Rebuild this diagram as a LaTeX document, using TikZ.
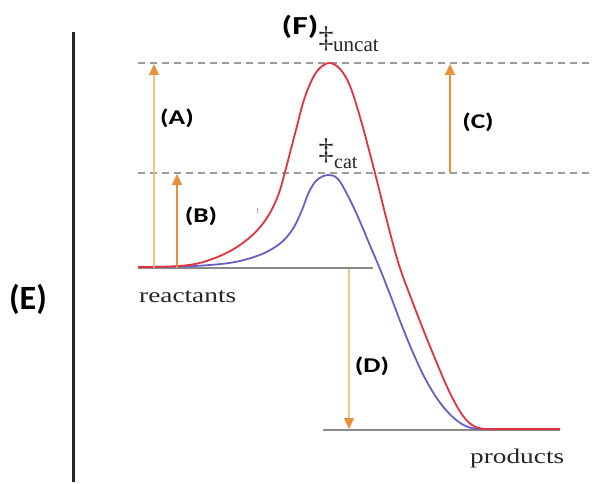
\documentclass[tikz,border=0pt]{standalone}
\usepackage{fontspec}
\setmainfont[FakeStretch=1.3]{Liberation Serif}
\newfontfamily\plainserif{Liberation Serif}
\newfontfamily\lblfont[FakeStretch=1.3]{Carlito}
\newfontfamily\bigfont{Carlito}
\usetikzlibrary{arrows.meta}
\definecolor{redc}{HTML}{E5323F}
\definecolor{purc}{HTML}{6A60C4}
\definecolor{oranged}{HTML}{E8913A}
\definecolor{orangel}{HTML}{F3C28E}
\definecolor{lvl}{HTML}{8A8A8A}
\tikzset{
  dashlvl/.style={draw=lvl!85, line width=1.4pt, dash pattern=on 7pt off 5pt},
  levelline/.style={draw=lvl, line width=2.2pt},
  arrlight/.style={draw=orangel, line width=1.3pt, -{Triangle[length=11pt,width=10pt,fill=oranged,color=oranged]}},
  arrdark/.style={draw=oranged, line width=2.2pt, -{Triangle[length=11pt,width=10pt,fill=oranged,color=oranged]}},
  lbl/.style={font=\lblfont\bfseries\fontsize{21}{21}\selectfont, inner sep=0pt},
  biglbl/.style={font=\bigfont\bfseries\fontsize{34}{34}\selectfont, inner sep=0pt},
  sertxt/.style={font=\fontsize{21}{21}\selectfont, inner sep=0pt, text=black!85},
  dagtxt/.style={font=\plainserif\fontsize{30}{30}\selectfont, inner sep=0pt, text=black!85, anchor=base},
  subtxt/.style={font=\plainserif\fontsize{21}{21}\selectfont, inner sep=0pt, text=black!85, anchor=base west},
  curve/.style={line width=1.8pt, line join=round},
}
\begin{document}
\begin{tikzpicture}[x=1pt,y=-1pt]
\useasboundingbox[fill=white] (0,0) rectangle (592,484);
% axis
\coordinate (axT) at (73,32);
\coordinate (axB) at (73,482);
\draw[line width=3pt, draw=black!85] (axT) -- (axB);
% dashed levels
\coordinate (d1a) at (138,63); \coordinate (d1b) at (592,63);
\coordinate (d2a) at (138,173); \coordinate (d2b) at (592,173);
\draw[dashlvl] (d1a) -- (d1b);
\draw[dashlvl] (d2a) -- (d2b);
% reactant and product levels
\coordinate (r1) at (138,268); \coordinate (r2) at (373,268);
\coordinate (p1) at (323,430); \coordinate (p2) at (560,430);
\draw[levelline] (r1) -- (r2);
\draw[levelline] (p1) -- (p2);
% curves
\draw[curve, draw=purc] plot[smooth, tension=0.6] coordinates {
 (138,267) (180,266.5) (210,265) (235,262) (257,256) (272,249) (284,240) (294,227) (302,210) (309,192) (317,180) (328,175)
 (338,179) (348,196) (358,217) (369,243) (380,269) (391,297) (402,326) (414,355) (427,382) (441,404) (455,419) (468,427) (482,429) (505,429) (560,429)};
\draw[curve, draw=redc] plot[smooth, tension=0.6] coordinates {
 (138,267) (170,266.5) (195,264) (215,258) (232,250) (248,239) (261,226) (271,211) (279,193) (285,172) (291,149) (297,126) (303,103) (310,84) (318,70) (329,63)
 (340,69) (350,86) (360,117) (369,150) (378,185) (388,225) (399,265) (411,298) (423,329) (436,361) (449,391) (461,413) (472,425) (485,429) (505,429) (560,429)};
% arrows
\coordinate (aS) at (154,268); \coordinate (aE) at (154,64);
\coordinate (bS) at (177,268); \coordinate (bE) at (177,174);
\coordinate (cS) at (450,173); \coordinate (cE) at (450,64);
\coordinate (dS) at (349,269); \coordinate (dE) at (349,429);
\draw[arrlight] (aS) -- (aE);
\draw[arrdark] (bS) -- (bE);
\draw[arrdark] (cS) -- (cE);
\draw[arrlight] (dS) -- (dE);
% labels
\node[lbl] (A) at (177,118) {(A)};
\node[lbl] (B) at (201,216) {(B)};
\node[lbl] (C) at (478,122) {(C)};
\node[lbl] (D) at (372,366) {(D)};
\node[biglbl] (E) at (28,299) {(E)};
\node[lbl, font=\lblfont\bfseries\fontsize{26}{26}\selectfont] (F) at (300,27) {(F)};
% transition state labels
\node[dagtxt] (dd1) at (326,48) {‡};
\node[subtxt] (unc) at (333,52) {uncat};
\node[dagtxt] (dd2) at (326,160) {‡};
\node[subtxt, font=\plainserif\fontsize{20}{20}\selectfont] (cat) at (334,168) {cat};
% level texts
\node[sertxt, anchor=base west] (reac) at (139,302) {reactants};
\node[sertxt, anchor=base west] (prod) at (470,463) {products};
% faint mark
\node[inner sep=0pt, text=black!35, font=\fontsize{9}{9}\selectfont] (tm) at (258,211) {t};
\end{tikzpicture}
\end{document}
